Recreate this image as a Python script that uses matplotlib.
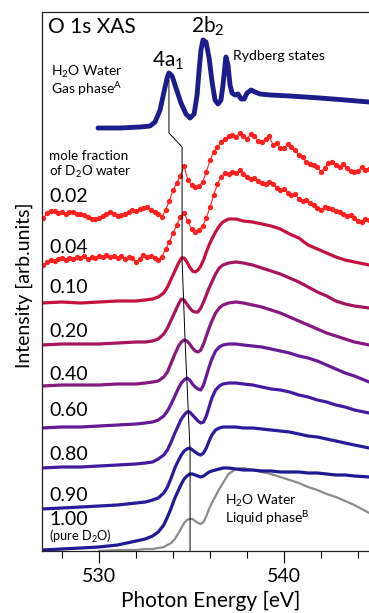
import matplotlib
matplotlib.use("Agg")
import matplotlib.pyplot as plt
from matplotlib.ticker import FixedLocator, NullLocator

plt.rcParams['font.family'] = ['Lato', 'DejaVu Sans']
plt.rcParams['mathtext.fontset'] = 'custom'
plt.rcParams['mathtext.rm'] = 'Lato'
plt.rcParams['mathtext.it'] = 'Lato'

# ---------------- data ----------------
# gas-phase H2O spectrum
gas_energy = [529.95, 531.14, 532.22, 532.76, 533.03, 533.30, 533.51, 533.68, 533.78, 533.95,
              534.16, 534.43, 534.70, 534.92, 535.14, 535.30, 535.41, 535.51, 535.62, 535.78,
              535.95, 536.11, 536.27, 536.43, 536.59, 536.70, 536.81, 536.86, 536.97, 537.08,
              537.19, 537.35, 537.51, 537.68, 537.84, 538.00, 538.22, 538.43, 538.70, 539.24,
              540.32, 541.95, 543.30, 544.59]
gas_intensity = [0, 0, 1, 2, 6, 18, 36, 50, 55, 52,
                 40, 25, 14, 10, 14, 33, 58, 78, 88, 86,
                 70, 46, 28, 24, 28, 43, 63, 71, 63, 43,
                 35, 33, 34, 29, 29, 35, 38, 36, 34, 33,
                 32, 30, 28, 26]

# noisy low-concentration spectra (0.2 eV steps)
red_energy = [527.0, 527.2, 527.4, 527.6, 527.8, 528.0, 528.2, 528.4, 528.6, 528.8,
              529.0, 529.2, 529.4, 529.6, 529.8, 530.0, 530.2, 530.4, 530.6, 530.8,
              531.0, 531.2, 531.4, 531.6, 531.8, 532.0, 532.2, 532.4, 532.6, 532.8,
              533.0, 533.2, 533.4, 533.6, 533.8, 534.0, 534.2, 534.4, 534.6, 534.8,
              535.0, 535.2, 535.4, 535.6, 535.8, 536.0, 536.2, 536.4, 536.6, 536.8,
              537.0, 537.2, 537.4, 537.6, 537.8, 538.0, 538.2, 538.4, 538.6, 538.8,
              539.0, 539.2, 539.4, 539.6, 539.8, 540.0, 540.2, 540.4, 540.6, 540.8,
              541.0, 541.2, 541.4, 541.6, 541.8, 542.0, 542.2, 542.4, 542.6, 542.8,
              543.0, 543.2, 543.4, 543.6, 543.8, 544.0, 544.2, 544.4, 544.6]
i_002 = [0, 5, 7, 7, 5, 6, 4, 6, 6, 4,
         4, 3, 1, -1, -1, 0, 2, 4, 6, 4,
         2, 3, 4, 6, 8, 7, 9, 10, 11, 8,
         6, 4, 1, 8, 17, 28, 35, 42, 52, 38,
         33, 31, 32, 36, 46, 58, 66, 71, 76, 79,
         82, 83, 81, 85, 82, 79, 84, 82, 77, 76,
         79, 82, 73, 75, 70, 70, 74, 71, 68, 63,
         61, 56, 54, 53, 51, 46, 50, 55, 56, 53,
         51, 54, 50, 47, 46, 47, 51, 48, 49]
i_004 = [0, 3, 5, 4, 6, 7, 5, 7, 6, 8,
         7, 9, 6, 8, 7, 9, 8, 10, 8, 9,
         7, 9, 6, 8, 7, 3, 6, 10, 8, 9,
         7, 5, 8, 16, 23, 32, 40, 48, 52, 44,
         36, 33, 35, 39, 47, 58, 70, 81, 88, 92,
         91, 93, 92, 95, 91, 88, 86, 87, 84, 82,
         81, 83, 81, 77, 75, 76, 72, 70, 71, 66,
         64, 65, 62, 60, 57, 55, 58, 57, 56, 54,
         53, 51, 49, 50, 47, 44, 43, 46, 45]

# smooth liquid spectra, common energy grid
liq_grid = [526.9, 528.0, 529.0, 530.0, 531.0, 532.0, 532.5, 532.9, 533.2, 533.5,
            533.7, 533.9, 534.1, 534.3, 534.45, 534.6, 534.75, 534.9, 535.05, 535.2,
            535.35, 535.5, 535.65, 535.8, 535.95, 536.1, 536.3, 536.5, 536.7, 537.0,
            537.4, 537.8, 538.3, 538.8, 539.3, 539.8, 540.3, 540.8, 541.3, 541.8,
            542.3, 542.8, 543.3, 543.8, 544.6]
i_010 = [0, 1, 0, 1, 2, 2, 3, 4, 6, 10,
         16, 24, 32, 40, 45, 45, 41, 36, 32, 31,
         33, 37, 43, 51, 58, 64, 71, 77, 81, 84,
         84, 82, 81, 79, 77, 74, 69, 65, 58, 54,
         50, 46, 43, 41, 38]
i_020 = [-1, 0, 0, 0, 1, 2, 2, 3, 5, 10,
         16, 24, 32, 40, 45, 44, 40, 36, 33, 32,
         32, 36, 42, 49, 56, 62, 70, 76, 79, 81,
         82, 81, 79, 76, 73, 70, 66, 62, 57, 52,
         48, 43, 40, 38, 36]
i_040 = [-1, 0, 0, 0, 1, 1, 2, 3, 4, 8,
         13, 22, 31, 39, 43, 45, 44, 41, 37, 34,
         33, 35, 41, 49, 57, 64, 72, 77, 80, 82,
         83, 82, 80, 78, 75, 72, 68, 64, 60, 56,
         52, 49, 46, 43, 40]
i_060 = [-1, 0, 0, 1, 2, 3, 4, 5, 7, 11,
         16, 23, 31, 39, 44, 47, 49, 47, 43, 40,
         38, 37, 42, 51, 60, 68, 76, 80, 82, 83,
         83, 82, 81, 80, 78, 76, 74, 71, 69, 66,
         62, 58, 54, 51, 45]
i_080 = [-1, 0, 0, 1, 2, 3, 4, 5, 8, 12,
         17, 25, 34, 42, 48, 52, 55, 55, 52, 49,
         46, 44, 45, 51, 60, 69, 77, 81, 83, 84,
         84, 83, 82, 80, 78, 77, 75, 72, 70, 67,
         65, 62, 60, 57, 54]
i_090 = [-1, 0, 1, 2, 3, 5, 6, 8, 10, 15,
         21, 30, 40, 48, 53, 57, 59, 60, 58, 56,
         54, 53, 55, 60, 67, 73, 78, 80, 81, 81,
         81, 80, 80, 79, 78, 77, 76, 74, 72, 71,
         69, 67, 65, 63, 60]
i_100 = [0, 1, 2, 3, 5, 9, 11, 14, 18, 25,
         33, 42, 52, 60, 66, 71, 74, 76, 76, 75,
         74, 73, 74, 76, 78, 79, 80, 81, 82, 82,
         81, 80, 80, 79, 79, 78, 78, 78, 77, 77,
         76, 75, 75, 74, 73]

# liquid H2O reference (same grid from 530 eV)
ref_energy = liq_grid[3:]
ref_intensity = [0, 1, 1, 2, 2, 3, 4, 6, 8, 12,
                 18, 23, 28, 31, 32, 32, 30, 28, 27, 29,
                 35, 42, 48, 55, 62, 68, 77, 82, 83, 81,
                 79, 77, 74, 71, 68, 64, 61, 57, 54, 50,
                 46, 38]

# 4a1 peak position guide
track_energy = [533.78, 533.78, 534.49, 534.49, 534.65, 534.92, 534.92]
track_y = [471, 418, 404, 291, 211, 101, 0]

fractions = ['0.02', '0.04', '0.10', '0.20', '0.40', '0.60', '0.80', '0.90', '1.00']
offsets = [333, 286, 248, 207, 166, 124, 84, 43, 1]
gas_offset = 423
colors = ['#ff2020', '#ff2020', '#c4123e', '#a6145e', '#86187e', '#661a98',
          '#441ba0', '#2a1a9c', '#1f1a92']
gas_color = '#1c1c8a'
liq_color = '#8c8c8c'

# ---------------- figure ----------------
W, H = 369, 613
fig = plt.figure(figsize=(W / 100, H / 100), dpi=100)
ax = fig.add_axes([42 / W, 1 - 551 / H, 1 - 42 / W, (551 - 12) / H])
ax.set_xlim(526.92, 544.59)
ax.set_ylim(0, 539)


def px(x, y):
    return x / W, 1 - y / H


ax.plot(gas_energy, [v + gas_offset for v in gas_intensity], color=gas_color, lw=3.5,
        solid_capstyle='round', solid_joinstyle='round')

for ints, off in zip([i_002, i_004], offsets[:2]):
    ax.plot(red_energy, [v + off for v in ints], color='#ff2020', lw=0.8,
            marker='o', ms=2.8, mec='#ff2020', mfc='#ff2020')

smooth = [i_010, i_020, i_040, i_060, i_080, i_090, i_100]
for ints, off, c in zip(smooth, offsets[2:], colors[2:]):
    ax.plot(liq_grid, [v + off for v in ints], color=c, lw=2.3,
            solid_capstyle='round', solid_joinstyle='round')

ax.plot(ref_energy, ref_intensity, color=liq_color, lw=1.6, zorder=1)
ax.plot(track_energy, track_y, color='black', lw=0.7, zorder=5)

ax.spines['right'].set_visible(False)
for s in ['left', 'top', 'bottom']:
    ax.spines[s].set_linewidth(0.9)
    ax.spines[s].set_color('#222222')
ax.xaxis.set_major_locator(FixedLocator([530, 540]))
ax.xaxis.set_minor_locator(FixedLocator([528, 532, 534, 536, 538, 542, 544]))
ax.yaxis.set_major_locator(NullLocator())
ax.tick_params(axis='x', which='major', direction='out', length=8.5, width=0.8,
               labelsize=14, pad=4)
ax.tick_params(axis='x', which='minor', direction='out', length=5, width=0.8)

fig.text(*px(211, 607), 'Photon Energy [eV]', fontsize=15, ha='center', va='baseline')
fig.text(24 / W, 1 - 285 / H, 'Intensity [arb.units]', rotation=90, fontsize=14,
         ha='center', va='center')

fig.text(*px(48, 33), 'O 1s XAS', fontsize=15, va='baseline', ha='left')
fig.text(*px(191, 33), r'2b$_\mathregular{2}$', fontsize=15, va='baseline', ha='left')
fig.text(*px(152, 67), r'4a$_\mathregular{1}$', fontsize=15, va='baseline', ha='left')
fig.text(*px(233, 60), 'Rydberg states', fontsize=10.2, va='baseline', ha='left')
fig.text(*px(51, 76), r'H$_\mathregular{2}$O Water', fontsize=10, va='baseline', ha='left')
fig.text(*px(51, 94), r'Gas phase$^\mathregular{A}$', fontsize=10, va='baseline', ha='left')
fig.text(*px(49, 160), 'mole fraction', fontsize=9.7, va='baseline', ha='left')
fig.text(*px(49, 176), r'of D$_\mathregular{2}$O water', fontsize=9.7, va='baseline', ha='left')

label_baselines = [202, 253, 293, 337, 380, 416, 460, 501, 525]
for lab, yb in zip(fractions, label_baselines):
    fig.text(*px(49, yb), lab, fontsize=14, va='baseline', ha='left')
fig.text(*px(49, 541), r'(pure D$_\mathregular{2}$O)', fontsize=9.2, va='baseline', ha='left')
fig.text(*px(225, 505), r'H$_\mathregular{2}$O Water', fontsize=10, va='baseline', ha='left')
fig.text(*px(225, 523), r'Liquid phase$^\mathregular{B}$', fontsize=10, va='baseline', ha='left')

fig.savefig('out.png', dpi=100)
